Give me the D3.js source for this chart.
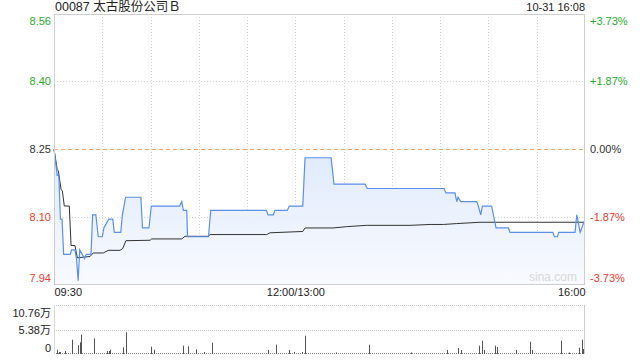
<!DOCTYPE html>
<html><head><meta charset="utf-8">
<script src="https://cdn.jsdelivr.net/npm/d3@7/dist/d3.min.js"></script>
<style>
html,body{margin:0;padding:0;background:#fff;}
svg{display:block;font-family:"Liberation Sans",Arial,sans-serif;}
</style></head>
<body>
<svg id="c" width="640" height="360"></svg>
<script>
// ---------- data ----------
const title = "00087 太古股份公司Ｂ";
const stamp = "10-31 16:08";
const preClose = 8.25;
const pctTicks = [3.73, 1.87, 0, -1.87, -3.73];
const priceLabels = ["8.56", "8.40", "8.25", "8.10", "7.94"];
const pctLabels = ["+3.73%", "+1.87%", "0.00%", "-1.87%", "-3.73%"];
const timeLabels = ["09:30", "12:00/13:00", "16:00"];
const timeLabelMinutes = [0, 150, 330];
const volLabels = ["10.76万", "5.38万", "0"];
const volTicks = [10.76, 5.38, 0];

// trading minute since 09:30 (lunch removed) and price
const priceMinute = [0, 2, 3, 4, 5, 6, 10, 11, 13, 14, 15, 16, 19, 20, 23, 24, 26, 27.5, 30, 31, 34, 36.5, 37.5, 41.5, 42.5, 44.5, 54, 55, 59, 60.5, 78, 79.4, 80.4, 82.5, 83, 96, 97.4, 132, 133, 136.3, 137.3, 145, 146.2, 154.6, 156, 172.2, 174, 193.3, 194.7, 242.4, 243.6, 249.2, 250.3, 251.1, 252.8, 262.7, 263.7, 265.2, 266.2, 272, 274.7, 282.4, 283.4, 310, 311, 312.8, 313.7, 323.8, 324.9, 327, 329.5];
const price = [8.25, 8.19, 8.19, 8.09, 8.09, 8.01, 8.01, 8.02, 8.02, 8.00, 7.95, 8.02, 8.00, 8.01, 8.01, 8.10, 8.10, 8.05, 8.05, 8.07, 8.09, 8.09, 8.06, 8.06, 8.10, 8.14, 8.14, 8.07, 8.07, 8.12, 8.12, 8.13, 8.11, 8.11, 8.05, 8.05, 8.11, 8.11, 8.10, 8.10, 8.11, 8.11, 8.12, 8.12, 8.23, 8.23, 8.17, 8.17, 8.16, 8.16, 8.15, 8.15, 8.13, 8.14, 8.13, 8.13, 8.12, 8.10, 8.12, 8.12, 8.07, 8.07, 8.06, 8.06, 8.05, 8.05, 8.06, 8.06, 8.10, 8.06, 8.085];

const avgMinute = [0, 2, 2.7, 4.4, 5.2, 6.4, 9.5, 10.6, 13, 14.5, 22.4, 24.4, 30.6, 33.7, 41, 42.7, 44.7, 59.7, 60.7, 79.4, 81.4, 95.9, 97, 132.2, 134.2, 154.6, 156, 173.4, 181.9, 194.3, 221.3, 233.7, 242, 250.3, 264.8, 329.5];
const avgPrice = [8.25, 8.203, 8.20, 8.158, 8.154, 8.12, 8.12, 8.03, 8.03, 8.002, 8.005, 8.013, 8.013, 8.019, 8.019, 8.023, 8.041, 8.042, 8.045, 8.045, 8.051, 8.051, 8.055, 8.055, 8.059, 8.062, 8.07, 8.07, 8.073, 8.076, 8.076, 8.078, 8.078, 8.08, 8.083, 8.083];

// volume (万 shares)
const volMinute = [2, 3, 4, 7, 11, 15, 16, 17, 25, 33, 34, 35, 43, 45, 60, 62, 80, 83, 88, 93, 98, 133, 138, 146, 149, 154, 156, 175, 196, 222, 244, 251, 253, 264, 266, 267, 274, 275, 287, 296, 297, 315, 320, 326, 328, 329];
const volume = [0.94, 0.44, 0.44, 0.66, 3.14, 1.91, 2.57, 4.24, 3.45, 0.66, 0.66, 0.94, 1.47, 4.77, 1.6, 0.94, 1.82, 1.69, 1.03, 0.44, 2.48, 0.88, 2.04, 0.88, 0.44, 0.44, 4.02, 0.33, 2.04, 0.33, 0.88, 1.32, 0.88, 1.82, 2.92, 0.88, 1.82, 1.54, 0.88, 2.7, 0.88, 2.92, 0.33, 1.38, 3.14, 1.1];

// ---------- drawing ----------
const svg = d3.select("#c");
const L = 54, R = 585, T = 14, B = 284;
const VT = 305, VB = 354;
const hi = preClose * (1 + 0.0373), lo = preClose * (1 - 0.0373);

const x = d3.scaleLinear().domain([0, 330]).range([L, R]);
const y = d3.scaleLinear().domain([lo, hi]).range([B, T]);
const yv = d3.scaleLinear().domain([0, 10.76]).range([VB, VT]);

const upC = "#1fae2c", dnC = "#f03c2e", midC = "#333";
const colorFor = p => p > 0 ? upC : (p < 0 ? dnC : midC);

// gradient
const defs = svg.append("defs");
const grad = defs.append("linearGradient").attr("id", "fillg")
  .attr("gradientUnits", "userSpaceOnUse").attr("x1", 0).attr("x2", 0).attr("y1", y(8.23)).attr("y2", B);
grad.append("stop").attr("offset", 0).attr("stop-color", "#e1ebfc");
grad.append("stop").attr("offset", 1).attr("stop-color", "#f8fafe");

// title
svg.append("text").attr("x", L + 1).attr("y", 11).attr("font-size", 12.5).attr("fill", "#222")
  .attr("font-family", "'Liberation Sans','Noto Sans CJK SC',sans-serif").text(title);
svg.append("text").attr("x", R).attr("y", 11).attr("font-size", 11).attr("fill", "#222")
  .attr("text-anchor", "end").text(stamp);

// vertical dotted grid (every 30 min)
const vgrid = d3.range(30, 330, 30);
svg.append("g").selectAll("line").data(vgrid).join("line")
  .attr("x1", d => Math.round(x(d)) + 0.5).attr("x2", d => Math.round(x(d)) + 0.5)
  .attr("y1", T).attr("y2", B)
  .attr("stroke", "#d4d4d4").attr("stroke-dasharray", "1,2");

// horizontal dotted grid
svg.append("g").selectAll("line").data([1.87, -1.87]).join("line")
  .attr("x1", L).attr("x2", R)
  .attr("y1", d => Math.round(y(preClose * (1 + d / 100))) + 0.5)
  .attr("y2", d => Math.round(y(preClose * (1 + d / 100))) + 0.5)
  .attr("stroke", "#d4d4d4").attr("stroke-dasharray", "1,2");

// area
const pts = priceMinute.map((m, i) => [m, price[i]]);
svg.append("path").datum(pts)
  .attr("d", d3.area().x(d => x(d[0])).y0(B).y1(d => y(d[1])))
  .attr("fill", "url(#fillg)");

// pre-close dashed
svg.append("line").attr("x1", L).attr("x2", R)
  .attr("y1", Math.round(y(preClose)) + 0.5).attr("y2", Math.round(y(preClose)) + 0.5)
  .attr("stroke", "#f4a66e").attr("stroke-dasharray", "4,3");

// watermark
svg.append("text").attr("x", 577).attr("y", 281).attr("text-anchor", "end")
  .attr("font-size", 12).attr("fill", "#d8d8d8").text("sina.com");

// average line
const apts = avgMinute.map((m, i) => [m, avgPrice[i]]);
svg.append("path").datum(apts)
  .attr("d", d3.line().x(d => x(d[0])).y(d => y(d[1])))
  .attr("fill", "none").attr("stroke", "#333").attr("stroke-width", 1);

// price line
svg.append("path").datum(pts)
  .attr("d", d3.line().x(d => x(d[0])).y(d => y(d[1])))
  .attr("fill", "none").attr("stroke", "#5a90ec").attr("stroke-width", 1.2);

// frame
svg.append("rect").attr("x", L + 0.5).attr("y", T + 0.5).attr("width", R - L - 1).attr("height", B - T)
  .attr("fill", "none").attr("stroke", "#cfcfcf");

// left axis (price)
const tickPrices = pctTicks.map(p => preClose * (1 + p / 100));
const la = svg.append("g").attr("transform", `translate(${L},0)`)
  .call(d3.axisLeft(y).tickValues(tickPrices).tickSize(0).tickPadding(3)
    .tickFormat((d, i) => priceLabels[i]));
la.select(".domain").remove();
la.selectAll("text").attr("font-size", 11).attr("font-family", "'Liberation Sans',Arial,sans-serif")
  .attr("fill", (d, i) => colorFor(pctTicks[i]))
  .attr("dy", (d, i) => i === 0 ? "0.95em" : (i === pctTicks.length - 1 ? "-0.25em" : "0.32em"));

// right axis (pct)
const ra = svg.append("g").attr("transform", `translate(${R},0)`)
  .call(d3.axisRight(y).tickValues(tickPrices).tickSize(0).tickPadding(5)
    .tickFormat((d, i) => pctLabels[i]));
ra.select(".domain").remove();
ra.selectAll("text").attr("font-size", 11).attr("font-family", "'Liberation Sans',Arial,sans-serif")
  .attr("fill", (d, i) => colorFor(pctTicks[i]))
  .attr("dy", (d, i) => i === 0 ? "0.95em" : (i === pctTicks.length - 1 ? "-0.25em" : "0.32em"));

// time axis
const ta = svg.append("g").attr("transform", `translate(0,${B})`)
  .call(d3.axisBottom(x).tickValues(timeLabelMinutes).tickSize(0).tickPadding(4)
    .tickFormat((d, i) => timeLabels[i]));
ta.select(".domain").remove();
ta.selectAll("text").attr("font-size", 11).attr("fill", "#222")
  .attr("font-family", "'Liberation Sans',Arial,sans-serif")
  .attr("text-anchor", (d, i) => i === 0 ? "start" : (i === timeLabels.length - 1 ? "end" : "middle"));

// volume chart
svg.append("line").attr("x1", L).attr("x2", R).attr("y1", VT + 0.5).attr("y2", VT + 0.5)
  .attr("stroke", "#c8c8c8").attr("stroke-dasharray", "1,1");
svg.append("line").attr("x1", L).attr("x2", R).attr("y1", Math.round(yv(5.38)) + 0.5).attr("y2", Math.round(yv(5.38)) + 0.5)
  .attr("stroke", "#c8c8c8").attr("stroke-dasharray", "1,1");
svg.append("line").attr("x1", L).attr("x2", R).attr("y1", VB - 0.5).attr("y2", VB - 0.5)
  .attr("stroke", "#888").attr("stroke-dasharray", "1,1");
svg.append("line").attr("x1", L + 0.5).attr("x2", L + 0.5).attr("y1", VT).attr("y2", VB)
  .attr("stroke", "#d8d8d8");
svg.append("line").attr("x1", R - 0.5).attr("x2", R - 0.5).attr("y1", VT).attr("y2", VB)
  .attr("stroke", "#cfcfcf");

svg.append("g").selectAll("line").data(volMinute.map((m, i) => [m, volume[i]])).join("line")
  .attr("x1", d => Math.round(x(d[0])) + 0.5).attr("x2", d => Math.round(x(d[0])) + 0.5)
  .attr("y1", VB).attr("y2", d => yv(d[1]))
  .attr("stroke", "#555").attr("stroke-width", 1);

const va = svg.append("g").attr("transform", `translate(${L},0)`)
  .call(d3.axisLeft(yv).tickValues(volTicks).tickSize(0).tickPadding(3)
    .tickFormat((d, i) => volLabels[i]));
va.select(".domain").remove();
va.selectAll("text").attr("font-size", 11).attr("fill", "#222")
  .attr("font-family", "'Liberation Sans','Noto Sans CJK SC',sans-serif")
  .attr("dy", (d, i) => i === 0 ? "1.0em" : (i === volTicks.length - 1 ? "-0.25em" : "0.32em"));
</script>
</body></html>
